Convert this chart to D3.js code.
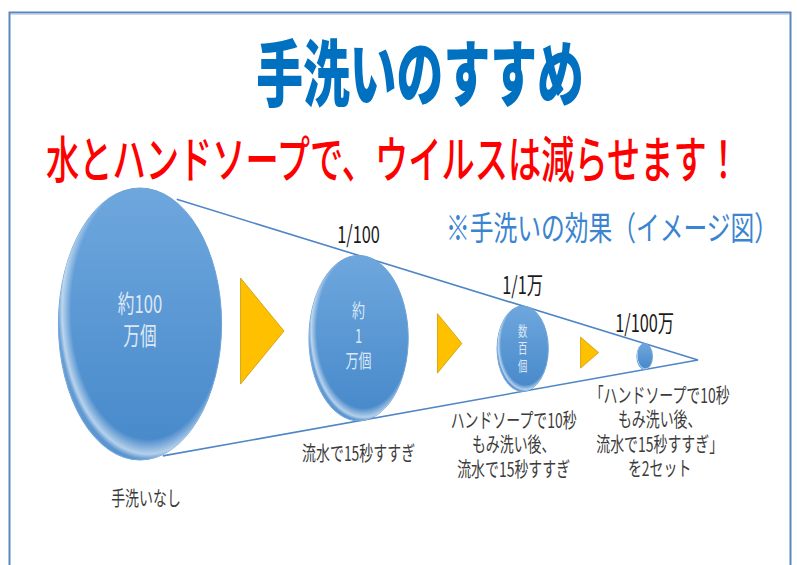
<!DOCTYPE html>
<html>
<head>
<meta charset="utf-8">
<script src="https://cdn.jsdelivr.net/npm/d3@7"></script>
<style>
  html, body { margin: 0; padding: 0; background: #fff; }
  svg { display: block; font-family: "Noto Sans CJK JP", "Noto Sans", sans-serif; }
</style>
</head>
<body>
<div id="chart"></div>
<script>
// remaining virus count after each step (数百 read as ~150)
var counts = [1000000, 10000, 150, 1];
var countText = [['約100', '万個'], ['約', '1', '万個'], ['数', '百', '個'], []];
var ratioText = [null, '1/100', '1/1万', '1/100万'];
var stepText = [
  ['手洗いなし'],
  ['流水で15秒すすぎ'],
  ['ハンドソープで10秒', 'もみ洗い後、', '流水で15秒すすぎ'],
  ['「ハンドソープで10秒', 'もみ洗い後、', '流水で15秒すすぎ」', 'を2セット']
];
var titleText = '手洗いのすすめ';
var subText = '水とハンドソープで、ウイルスは減らせます！';
var noteText = '※手洗いの効果（イメージ図）';

var W = 797, H = 565;
var sx = 0.68; // text is drawn horizontally squeezed
var labelShift = [6, 0, -9, 15]; // nudge of the step captions

var svg = d3.select('#chart').append('svg').attr('width', W).attr('height', H);

//frame
svg.append('rect').attr('x', 9.5).attr('y', 12.5).attr('width', 781).attr('height', 600)
  .attr('fill', 'none').attr('stroke', '#5a87bb').attr('stroke-width', 2);
svg.append('line').attr('x1', 11).attr('x2', 789).attr('y1', 14.5).attr('y2', 14.5)
  .attr('stroke', '#cddbea').attr('stroke-width', 1);

var squeezed = function(sel, x, y, k) {
  return sel.attr('transform', 'translate(' + x + ',' + y + ') scale(' + (k || sx) + ',1)');
};

squeezed(svg.append('text'), 420, 100, 0.65).attr('text-anchor', 'middle')
  .attr('font-size', 72).attr('font-weight', 900).attr('fill', '#0070c0').text(titleText);
squeezed(svg.append('text'), 393, 178, 0.665).attr('text-anchor', 'middle')
  .attr('font-size', 50).attr('font-weight', 500).attr('fill', '#ff0000').text(subText);
squeezed(svg.append('text'), 612, 240, 0.72).attr('text-anchor', 'middle')
  .attr('font-size', 33).attr('font-weight', 400).attr('fill', '#3a84d0').text(noteText);

// scales: size from log count, position along the cone from size
var ryScale = d3.scalePow().exponent(1.4).domain([0, 6]).range([13, 136]);
var cxScale = d3.scaleLinear().domain([0, 136]).range([698, 140]);
var cyScale = d3.scaleLinear().domain([0, 136]).range([360, 324]);
var fontScale = d3.scaleSqrt().domain([0, 136]).range([0, 24.5]);

var nodes = counts.map(function(c, i) {
  var ry = ryScale(Math.log10(c));
  return { i: i, ry: ry, rx: ry * 0.6, cx: cxScale(ry), cy: cyScale(ry) };
});

var defs = svg.append('defs');
var grad = defs.append('linearGradient').attr('id', 'ball').attr('x1', 0).attr('y1', 0).attr('x2', 0).attr('y2', 1);
grad.append('stop').attr('offset', '0%').attr('stop-color', '#6ea7dd');
grad.append('stop').attr('offset', '100%').attr('stop-color', '#4688ca');
var rim = defs.append('radialGradient').attr('id', 'rim').attr('cx', '55%').attr('cy', '45%').attr('r', '55%');
rim.append('stop').attr('offset', '86%').attr('stop-color', '#fff').attr('stop-opacity', 0);
rim.append('stop').attr('offset', '96%').attr('stop-color', '#fff').attr('stop-opacity', 0.6);
rim.append('stop').attr('offset', '100%').attr('stop-color', '#fff').attr('stop-opacity', 0.1);

// cone lines: apex -> through every circle top / bottom
var first = nodes[0];
var apex = [cxScale(0), cyScale(0)];
var cone = svg.append('g').attr('stroke', '#4f86c6').attr('stroke-width', 1.6);
var topEnd = first.cx + first.rx * 0.45;
var botEnd = first.cx + first.rx * 0.28;
var topY = d3.scaleLinear().domain([first.cx, apex[0]]).range([first.cy - first.ry, apex[1]]);
var botY = d3.scaleLinear().domain([first.cx, apex[0]]).range([first.cy + first.ry, apex[1]]);
cone.append('line').attr('x1', topEnd).attr('y1', topY(topEnd)).attr('x2', apex[0]).attr('y2', apex[1]);
cone.append('line').attr('x1', botEnd).attr('y1', botY(botEnd)).attr('x2', apex[0]).attr('y2', apex[1]);

// arrows between the circles
var pairs = d3.pairs(nodes);
svg.append('g').selectAll('path')
  .data(pairs)
  .enter()
  .append('path')
  .attr('d', function(p) {
    var a = p[0], b = p[1];
    var h = Math.max(Math.sqrt(a.ry * b.ry), 31);
    var w = Math.max(h * 0.41, 18);
    var x = (a.cx + a.rx + b.cx - b.rx) / 2 - 3 - w / 2;
    var y = (a.cy + b.cy) / 2;
    return 'M' + x + ',' + (y - h / 2) + 'L' + (x + w) + ',' + y + 'L' + x + ',' + (y + h / 2) + 'Z';
  })
  .attr('fill', '#ffc000')
  .attr('stroke', '#c99a00')
  .attr('stroke-width', 0.8);

var balls = svg.append('g').selectAll('g')
  .data(nodes)
  .enter()
  .append('g');

balls.append('ellipse')
  .attr('cx', function(d) { return d.cx; })
  .attr('cy', function(d) { return d.cy; })
  .attr('rx', function(d) { return d.rx; })
  .attr('ry', function(d) { return d.ry; })
  .attr('fill', 'url(#ball)')
  .attr('stroke', '#6ea3d8')
  .attr('stroke-width', 1);
balls.append('ellipse')
  .attr('cx', function(d) { return d.cx; })
  .attr('cy', function(d) { return d.cy; })
  .attr('rx', function(d) { return d.rx; })
  .attr('ry', function(d) { return d.ry; })
  .attr('fill', 'url(#rim)');

// count text inside circles
balls.each(function(d) {
  var g = d3.select(this);
  var lines = countText[d.i];
  var fs = fontScale(d.ry);
  var lh = fs * 1.3;
  lines.forEach(function(t, k) {
    squeezed(g.append('text'), d.cx, d.cy - d.ry * 0.04 + (k - (lines.length - 1) / 2) * lh)
      .attr('text-anchor', 'middle')
      .attr('dominant-baseline', 'central')
      .attr('font-size', fs)
      .attr('fill', '#dce8f6')
      .text(t);
  });
});

// ratio above
balls.filter(function(d) { return ratioText[d.i]; })
  .append('text')
  .each(function(d) { squeezed(d3.select(this), d.cx, d.cy - d.ry - 12); })
  .attr('text-anchor', 'middle')
  .attr('font-size', 24)
  .attr('fill', '#1a1a1a')
  .text(function(d) { return ratioText[d.i]; });

// step description below
balls.each(function(d) {
  var g = d3.select(this);
  var y0 = d.cy + d.ry + 32 + d.ry * 0.1;
  stepText[d.i].forEach(function(t, k) {
    squeezed(g.append('text'), d.cx + labelShift[d.i], y0 + k * 24.5)
      .attr('text-anchor', 'middle')
      .attr('font-size', 20.5)
      .attr('fill', '#3c3c3c')
      .text(t);
  });
});
</script>
</body>
</html>
